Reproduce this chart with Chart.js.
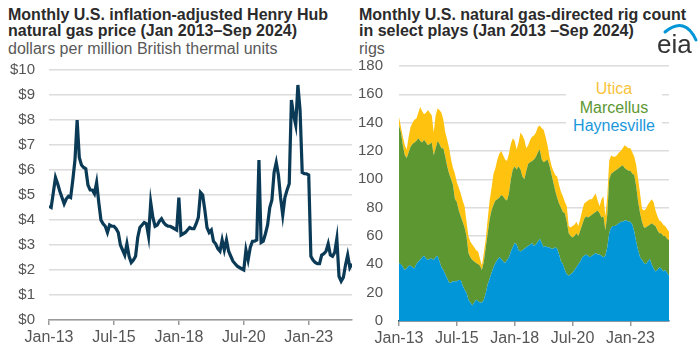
<!DOCTYPE html>
<html><head><meta charset="utf-8">
<script src="https://cdn.jsdelivr.net/npm/chart.js@4"></script>
<style>
html,body{margin:0;padding:0;background:#fff;width:700px;height:351px;overflow:hidden;font-family:"Liberation Sans",Arial,sans-serif;}
.box{position:absolute;}
.title{position:absolute;font-weight:bold;font-size:16px;line-height:16px;color:#2b2b2b;white-space:nowrap;}
.sub{position:absolute;font-size:16px;line-height:17px;color:#595959;white-space:nowrap;}
.leg{position:absolute;left:566px;top:80px;width:96px;background:#fff;text-align:center;font-size:16px;line-height:18.5px;}
</style></head>
<body>
<div class="title" style="left:8px;top:7px;">Monthly U.S. inflation-adjusted Henry Hub<br>natural gas price (Jan 2013&ndash;Sep 2024)</div>
<div class="sub" style="left:8px;top:40px;">dollars per million British thermal units</div>
<div class="title" style="left:359px;top:7px;">Monthly U.S. natural gas-directed rig count<br>in select plays (Jan 2013 &ndash;Sep 2024)</div>
<div class="sub" style="left:359px;top:40px;">rigs</div>
<div class="box" style="left:0;top:0;width:356px;height:351px;"><canvas id="c1"></canvas></div>
<div class="box" style="left:350px;top:0;width:322px;height:351px;"><canvas id="c2"></canvas></div>
<div class="leg"><div style="color:#f8c33a">Utica</div><div style="color:#5d9732">Marcellus</div><div style="color:#1a98db">Haynesville</div></div>
<svg class="box" style="left:650px;top:18px;" width="50" height="42">
<path d="M15 14 Q35 -2 46 22" stroke="#0096d7" stroke-width="3" fill="none" stroke-linecap="round"/>
<text x="7" y="35" font-family="Liberation Sans, Arial" font-size="26" fill="#333">eia</text>
</svg>
<script>
const tickPos = [0, 30, 60, 90, 120];
const tickLabels = ['Jan-13', 'Jul-15', 'Jan-18', 'Jul-20', 'Jan-23'];

// Henry Hub inflation-adjusted price, Jan 2013 - Sep 2024 (dollars/MMBtu)
const price = [
4.55,4.5,5.1,5.7,5.45,5.15,4.9,4.65,4.85,4.95,4.9,5.6,
6.4,8.0,6.5,6.2,6.1,6.05,5.4,5.2,5.2,5.05,5.5,4.7,
4.0,3.85,3.75,3.5,3.8,3.75,3.75,3.65,3.5,3.0,2.8,2.6,
3.05,2.55,2.3,2.4,2.55,3.3,3.7,3.8,3.9,3.85,3.35,4.7,
4.1,3.75,3.8,3.95,4.05,3.9,3.8,3.75,3.75,3.7,3.65,3.6,
4.9,3.4,3.45,3.5,3.6,3.7,3.65,3.65,3.85,4.1,5.1,5.0,
4.4,3.7,3.5,3.6,3.15,3.05,2.85,2.75,3.2,2.8,3.2,2.75,
2.55,2.35,2.25,2.15,2.1,2.05,2.0,2.8,2.4,2.9,3.15,3.15,
3.2,6.4,3.1,3.15,3.45,3.8,4.5,4.8,5.9,6.3,5.8,4.9,
4.2,4.9,5.2,5.45,8.8,8.2,7.8,9.4,8.4,5.9,5.85,5.85,
5.8,2.55,2.4,2.3,2.25,2.25,2.6,2.65,2.75,3.05,2.6,2.55,
2.7,3.25,1.75,1.55,1.7,2.2,2.6,2.1,2.25];

// Rig counts, Jan 2013 - Sep 2024
const haynesville = [
41,40,38,36,37,39,39,38,37,40,42,43,
45,46,44,43,44,44,43,45,46,42,38,36,
33,30,27,27,28,28,28,29,29,25,22,20,
15,13,11,13,15,14,13,13,15,20,26,30,
34,38,41,43,45,44,42,41,43,45,49,52,
55,54,50,49,50,51,52,53,54,55,53,54,
56,58,55,52,53,52,52,51,51,52,51,47,
42,40,36,33,32,33,34,36,38,40,42,45,
46,47,46,45,46,47,48,47,47,46,45,46,
52,62,66,67,67,68,69,70,70,71,71,70,
70,68,63,56,50,45,43,41,40,42,44,40,
37,35,36,38,37,35,36,34,32];
const marcellus = [
97,93,86,81,78,80,84,87,89,87,87,84,
81,82,82,81,81,82,74,77,81,83,84,86,
83,79,77,73,68,58,56,49,45,45,44,40,
33,32,32,29,26,26,26,23,27,32,36,42,
44,44,44,43,42,45,46,45,42,45,51,55,
54,53,59,58,52,49,54,58,58,58,61,62,
63,63,59,60,60,62,58,53,47,40,36,36,
38,37,40,37,30,27,25,24,24,20,22,23,
26,27,27,29,29,29,29,31,29,27,29,18,
23,38,38,38,39,39,39,39,40,37,36,36,
36,36,40,39,34,31,27,25,26,25,24,29,
31,32,28,24,25,25,24,24,25];
const utica = [
6,4,6,7,6,11,14,15,16,16,18,24,
22,18,21,25,22,19,16,23,23,24,25,20,
17,19,18,14,12,18,14,16,16,15,15,10,
12,11,11,10,9,9,5,3,6,6,10,13,
16,22,23,28,31,31,29,28,28,28,25,22,
18,14,17,26,29,28,16,13,16,17,17,17,
18,17,22,23,17,10,6,6,8,11,15,13,
11,11,8,11,5,6,8,8,8,7,8,10,
11,10,12,12,11,12,13,7,5,13,14,10,
13,13,13,11,10,10,11,11,12,16,16,16,
16,15,13,15,16,14,9,12,13,15,16,17,
16,11,10,9,8,8,7,7,6];

const FONT = "'Liberation Sans', Arial, sans-serif";
Chart.defaults.font.family = FONT;
Chart.defaults.color = '#555';
const toXY = arr => arr.map((v, i) => ({x: i, y: v}));

function xScale(axisColor, h) {
  return {
    type: 'linear', min: 0, max: 140,
    afterBuildTicks: s => { s.ticks = tickPos.map(v => ({value: v})); },
    afterFit: s => { s.height = h; },
    ticks: { callback: v => tickLabels[tickPos.indexOf(v)], font: {size: 16}, color: '#555', padding: 3, maxRotation: 0, autoSkip: false },
    grid: { drawOnChartArea: false, drawTicks: true, tickLength: 5, color: '#9a9a9a', lineWidth: 1.5 },
    border: { display: true, color: axisColor, width: 1.5 }
  };
}

new Chart(document.getElementById('c1'), {
  type: 'line',
  data: { datasets: [{ data: toXY(price), borderColor: '#0b3a56', borderWidth: 3.2, pointRadius: 0, tension: 0, fill: false }] },
  options: {
    responsive: true, maintainAspectRatio: false, animation: false,
    layout: { padding: { top: 70, right: 4, left: 0, bottom: 0 } },
    plugins: { legend: { display: false }, tooltip: { enabled: false } },
    scales: {
      x: xScale('#9a9a9a', 31),
      y: {
        min: 0, max: 10,
        afterFit: s => { s.width = 49; },
        ticks: { stepSize: 1, callback: v => '$' + v, font: {size: 15}, color: '#555', padding: 14 },
        grid: { color: '#dcdcdc', lineWidth: 1.5, drawTicks: false },
        border: { display: false }
      }
    }
  }
});

const x2 = xScale('#24445c', 30);
x2.stacked = true;
new Chart(document.getElementById('c2'), {
  type: 'line',
  data: { datasets: [
    { label: 'Haynesville', data: toXY(haynesville), backgroundColor: '#0096d7', borderWidth: 0, pointRadius: 0, fill: 'origin' },
    { label: 'Marcellus', data: toXY(marcellus), backgroundColor: '#5d9732', borderWidth: 0, pointRadius: 0, fill: '-1' },
    { label: 'Utica', data: toXY(utica), backgroundColor: '#ffc20e', borderWidth: 0, pointRadius: 0, fill: '-1' }
  ] },
  options: {
    responsive: true, maintainAspectRatio: false, animation: false,
    layout: { padding: { top: 66, right: 3, left: 0, bottom: 0 } },
    plugins: { legend: { display: false }, tooltip: { enabled: false } },
    scales: {
      x: x2,
      y: {
        stacked: true, min: 0, max: 180,
        afterFit: s => { s.width = 49; },
        ticks: { stepSize: 20, font: {size: 15}, color: '#555', padding: 16 },
        grid: { color: '#dcdcdc', lineWidth: 1.5, drawTicks: false },
        border: { display: false }
      }
    }
  }
});
</script>
</body></html>
